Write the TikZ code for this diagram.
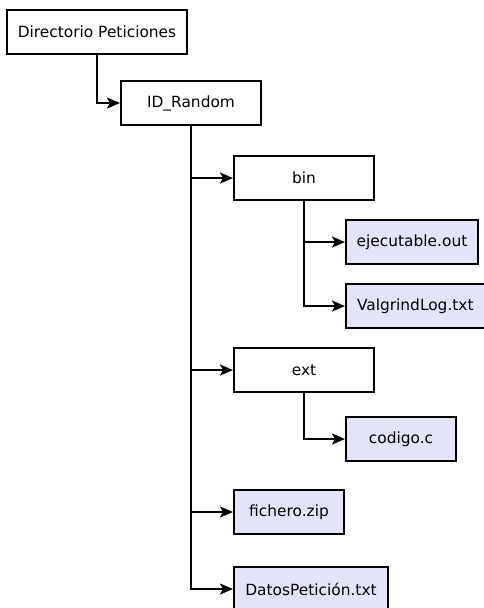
\documentclass[tikz,border=0pt]{standalone}
\usepackage{fontspec}
\setmainfont{DejaVu Sans}
\usetikzlibrary{arrows.meta}
\definecolor{filefill}{RGB}{228,228,248}
\tikzset{
  dirbox/.style={draw=black, line width=2pt, fill=white, minimum height=44pt,
    inner sep=0pt, font=\fontsize{15.4}{18}\selectfont},
  filebox/.style={dirbox, fill=filefill},
  link/.style={line width=2pt, -{Stealth[length=13pt,width=11pt,inset=3pt]}}
}
\begin{document}
\begin{tikzpicture}[x=1pt,y=-1pt]
\useasboundingbox (0,0) rectangle (484,608);
\fill[white] (0,0) rectangle (484,608);

% folders
\node[dirbox, minimum width=180pt] (root) at (97,32) {Directorio Peticiones};
\node[dirbox, minimum width=140pt] (idr)  at (191,103) {ID\_Random};
\node[dirbox, minimum width=140pt] (bin)  at (304,178) {bin};
\node[dirbox, minimum width=140pt] (ext)  at (304,370) {ext};

% files
\node[filebox, minimum width=132pt] (exe)  at (412,242) {ejecutable.out};
\node[filebox, minimum width=140pt, text width=118pt, align=left] (vlog) at (416,306) {ValgrindLog.txt};
\node[filebox, minimum width=110pt] (cod)  at (401,439) {codigo.c};
\node[filebox, minimum width=110pt] (zip)  at (289,512) {fichero.zip};
\node[filebox, minimum width=154pt] (dat)  at (311,589) {DatosPetición.txt};

% tree connectors
\draw[link] (root.south) |- (idr.west);
\draw[link] (idr.south) |- (bin.west);
\draw[link] (idr.south) |- (ext.west);
\draw[link] (idr.south) |- (zip.west);
\draw[link] (idr.south) |- (dat.west);
\draw[link] (bin.south) |- (exe.west);
\draw[link] (bin.south) |- (vlog.west);
\draw[link] (ext.south) |- (cod.west);
\end{tikzpicture}
\end{document}
